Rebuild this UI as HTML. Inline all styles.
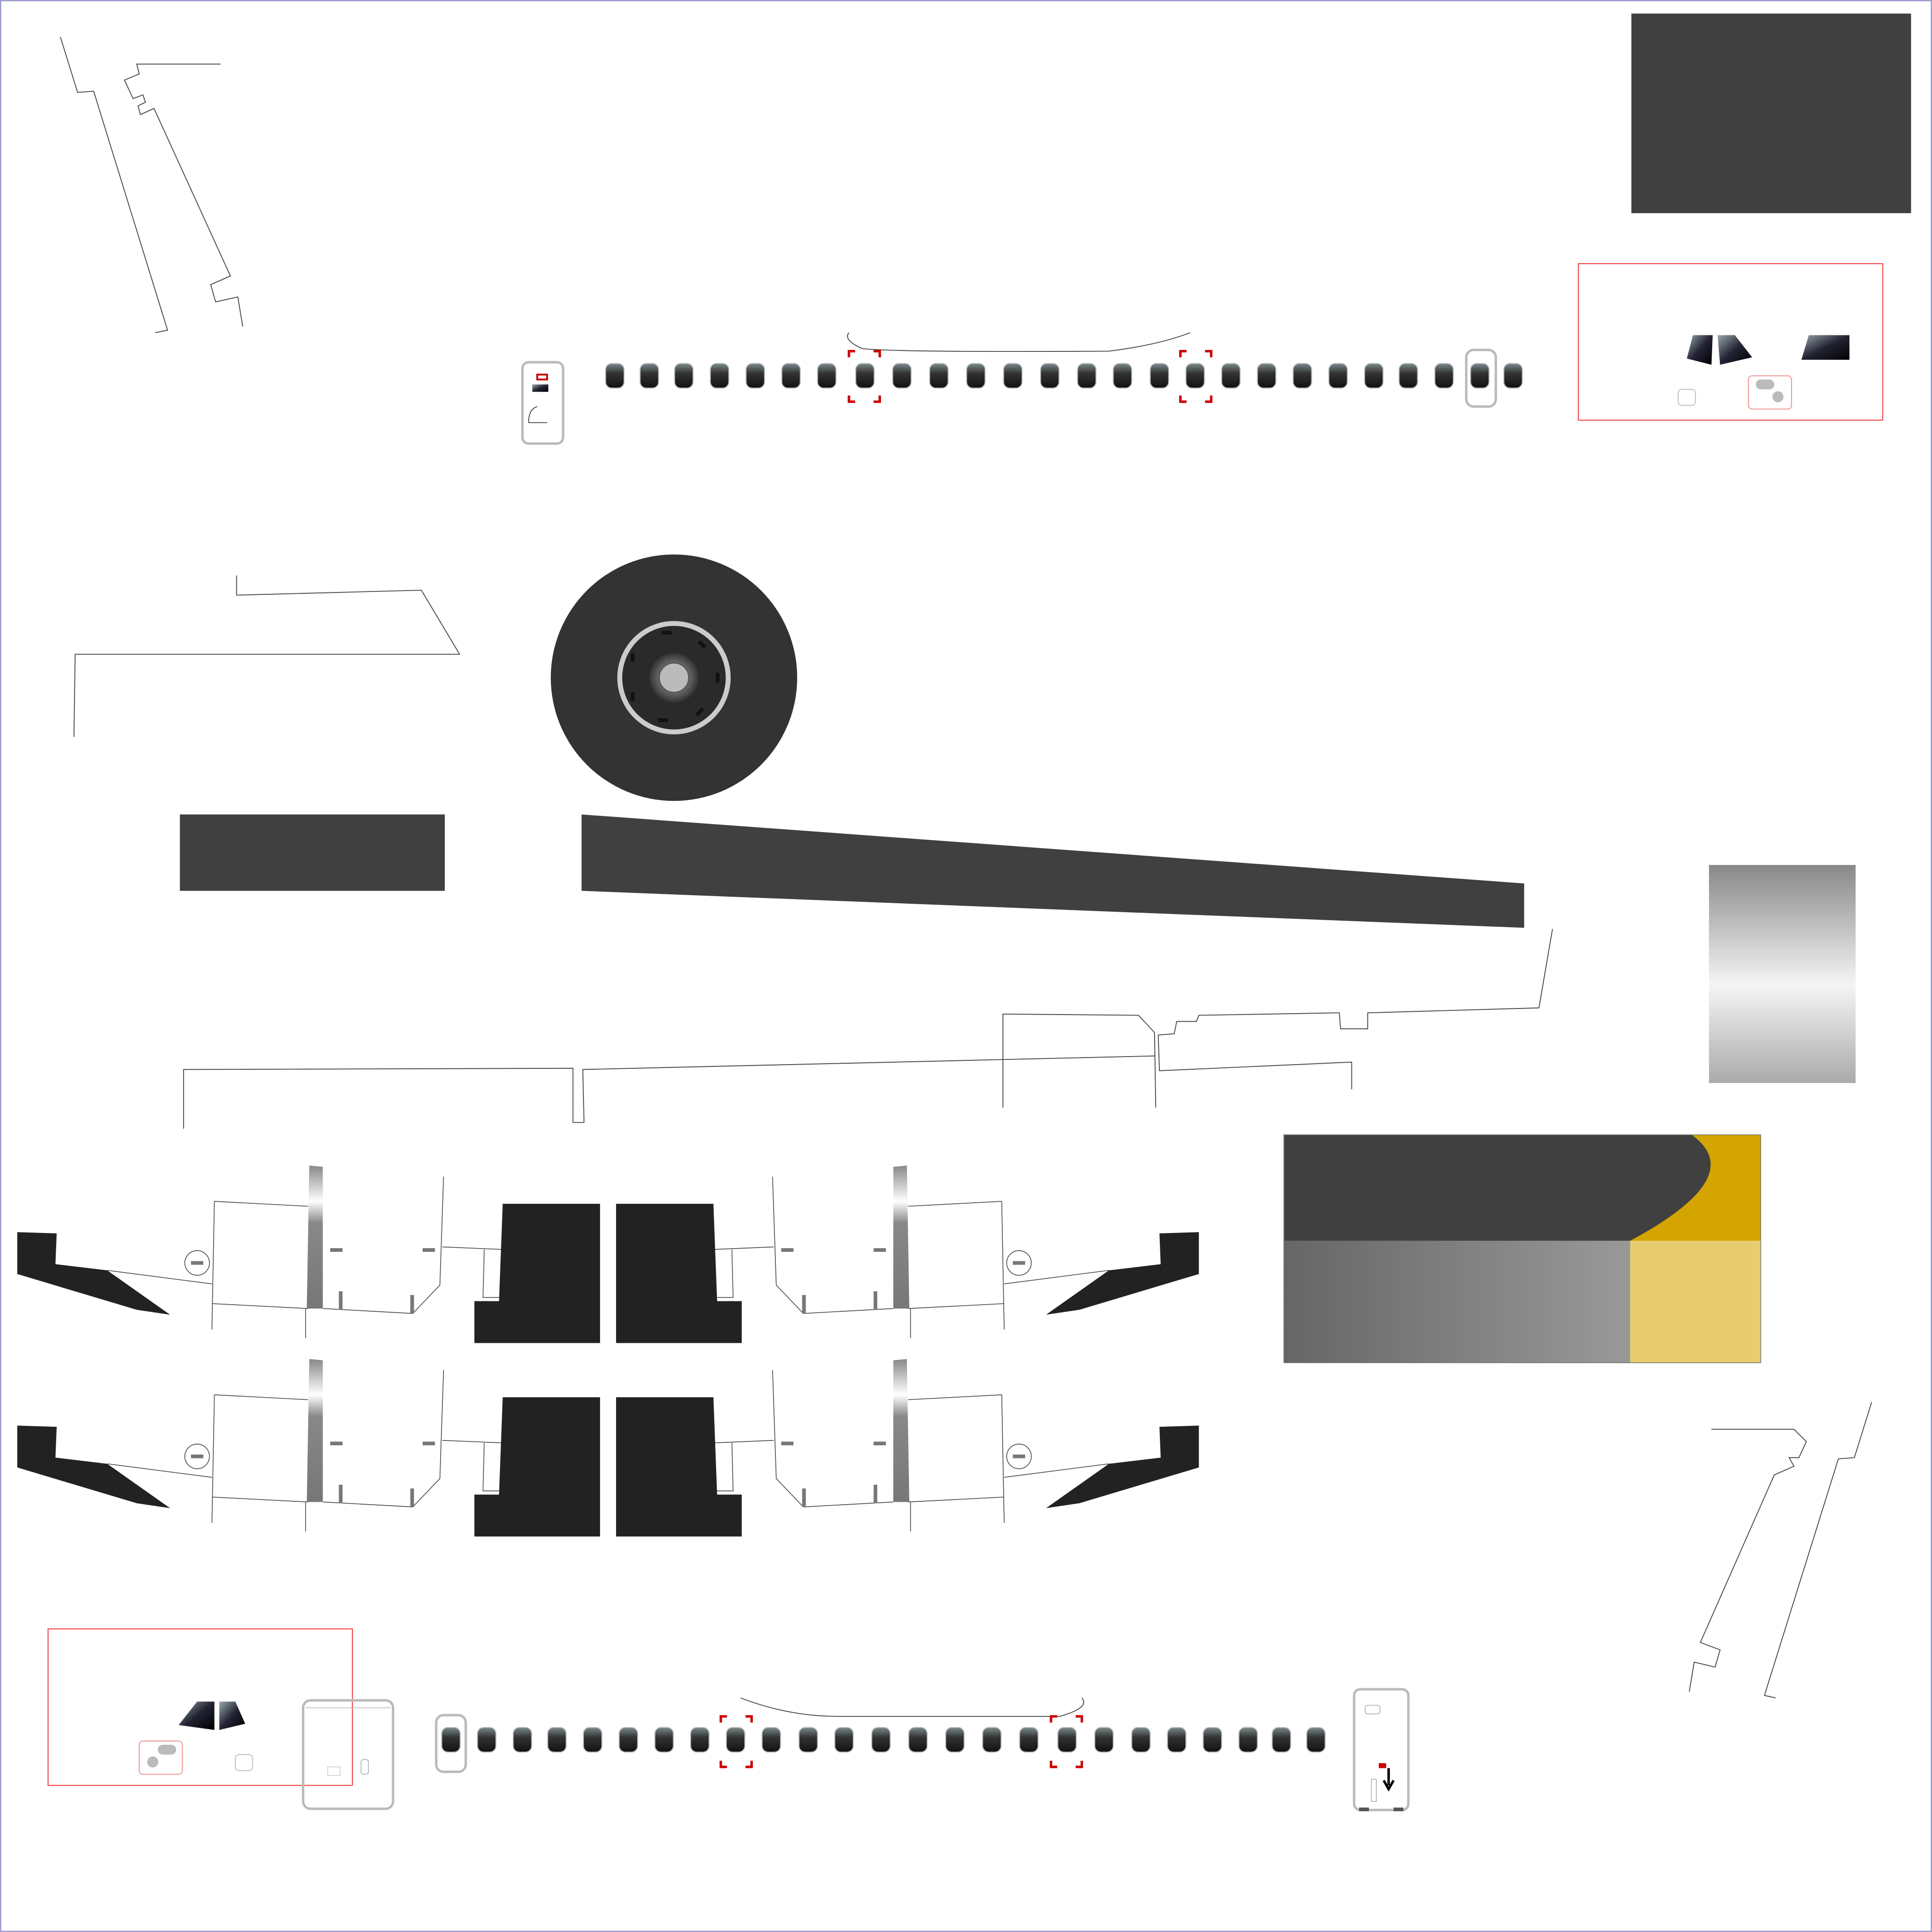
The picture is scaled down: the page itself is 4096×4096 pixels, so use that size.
<!DOCTYPE html>
<html><head><meta charset="utf-8"><style>html,body{margin:0;padding:0;background:#fff}svg{display:block}</style></head><body>
<svg xmlns="http://www.w3.org/2000/svg" width="4096" height="4096" viewBox="0 0 1568 1568">
<defs>
<linearGradient id="win" x1="0" y1="0" x2="0" y2="1"><stop offset="0" stop-color="#7a8a8c"/><stop offset="0.4" stop-color="#333"/><stop offset="1" stop-color="#111"/></linearGradient>
<linearGradient id="bar" x1="0" y1="0" x2="0" y2="1"><stop offset="0" stop-color="#888"/><stop offset="0.25" stop-color="#fff"/><stop offset="0.4" stop-color="#888"/><stop offset="1" stop-color="#777"/></linearGradient>
<linearGradient id="chrome" x1="0" y1="0" x2="0" y2="1"><stop offset="0" stop-color="#888"/><stop offset="0.55" stop-color="#f5f5f5"/><stop offset="1" stop-color="#aaa"/></linearGradient>
<linearGradient id="metal" x1="0" y1="0" x2="1" y2="0"><stop offset="0" stop-color="#666"/><stop offset="1" stop-color="#999"/></linearGradient>
<linearGradient id="glass" x1="0" y1="0" x2="1" y2="1"><stop offset="0" stop-color="#9aa"/><stop offset="0.5" stop-color="#223"/><stop offset="1" stop-color="#000"/></linearGradient>
<radialGradient id="hub"><stop offset="0" stop-color="#bbb"/><stop offset="0.5" stop-color="#777"/><stop offset="1" stop-color="#333"/></radialGradient>
<g id="w"><rect x="-7.5" y="-10" width="15" height="20" rx="5" fill="url(#win)" stroke="#bbb" stroke-width="0.8"/></g>
<g id="br" fill="none" stroke="#c00" stroke-width="2"><path d="M0 5V0H5M20 0H25V5M25 36V41H20M5 41H0V36"/></g>
<g id="asm" fill="none" stroke="#444" stroke-width="0.6">
<path d="M14 1000L46 1001L45 1026L87 1031L138 1067L111 1063L14 1034Z" fill="#222" stroke="none"/>
<path d="M408 977H487V1090H385V1056H405Z" fill="#222" stroke="none"/>
<path d="M87 1031L172 1042M174 975L250 979M174 975L172 1079M172 1058L250 1062M248 1062V1086M262 979M360 955L357 1043L335 1066L262 1062M359 1012L407 1014M393 1014L392 1053L405 1053"/>
<circle cx="160" cy="1025" r="10"/>
<rect x="155" y="1023.5" width="10" height="3" fill="#777" stroke="none"/>
<path d="M251 946L262 947L262 1062L249 1062Z" fill="url(#bar)" stroke="none"/>
<rect x="268" y="1013" width="10" height="3" fill="#777" stroke="none"/>
<rect x="343" y="1013" width="10" height="3" fill="#777" stroke="none"/>
<rect x="275" y="1048" width="3" height="15" fill="#777" stroke="none"/>
<rect x="333" y="1051" width="3" height="15" fill="#777" stroke="none"/>
</g>
</defs>
<rect x="0.5" y="0.5" width="1567" height="1567" fill="#fff" stroke="#99c" stroke-width="1"/>
<g fill="none" stroke="#444" stroke-width="0.7">
<path d="M49 30L63 75L76 74L136 268L126 270"/>
<path d="M179 52H111L113 60L101 65L108 80L116 77L118 83L112 86L114 93L125 88L187 224L171 231L175 245L193 241L197 265"/>
<path d="M192 467V483L342 479L373 531H61L60 598"/>
<path d="M1260 754L1249 818L1110 822V835H1088L1087 822L973 824L971 829L955 829L953 839L940 840L941 869L1097 862V884"/>
<path d="M814 899V823L924 824L937 838L938 899"/>
<path d="M149 916V868L465 867V911H474L473 868L937 857"/>
<path d="M1519 1138L1505 1183L1492 1184L1432 1376L1441 1378"/>
<path d="M1389 1160H1456L1466 1170L1460 1183L1452 1183L1456 1190L1440 1197L1380 1333L1396 1339L1392 1353L1375 1349L1371 1373"/>
<path d="M689 270Q684 276 700 283Q730 286 900 285Q940 280 966 270"/>
<path d="M601 1378Q640 1393 680 1393H860Q885 1386 878 1378"/>
</g>
<rect x="1324" y="11" width="227" height="162" fill="#404040"/>
<rect x="1281" y="214" width="247" height="127" fill="none" stroke="#e44" stroke-width="0.8"/>
<path d="M1374 272H1390L1389 296L1369 291Z" fill="url(#glass)"/><path d="M1394 272H1408L1422 290L1396 296Z" fill="url(#glass)"/>
<path d="M1468 272H1501V292H1462Z" fill="url(#glass)"/>
<rect x="1362" y="316" width="14" height="13" rx="3" fill="none" stroke="#bbb" stroke-width="0.7"/>
<rect x="1419" y="305" width="35" height="27" rx="3" fill="none" stroke="#e88" stroke-width="0.7"/>
<rect x="1425" y="308" width="15" height="8" rx="4" fill="#bbb"/><circle cx="1443" cy="322" r="4.5" fill="#bbb"/>
<rect x="424" y="294" width="33" height="66" rx="5" fill="none" stroke="#bbb" stroke-width="2"/>
<rect x="436" y="304" width="8" height="4" fill="none" stroke="#c00" stroke-width="1.5"/>
<rect x="432" y="312" width="13" height="6" fill="url(#glass)"/>
<path d="M429 343Q429 332 436 330M429 343H444" fill="none" stroke="#444" stroke-width="0.7"/>
<rect x="1190" y="284" width="24" height="46" rx="6" fill="none" stroke="#bbb" stroke-width="2"/>
<g>
<use href="#w" x="499" y="305"/><use href="#w" x="527" y="305"/><use href="#w" x="555" y="305"/><use href="#w" x="584" y="305"/><use href="#w" x="613" y="305"/><use href="#w" x="642" y="305"/><use href="#w" x="671" y="305"/><use href="#w" x="702" y="305"/><use href="#w" x="732" y="305"/><use href="#w" x="762" y="305"/><use href="#w" x="792" y="305"/><use href="#w" x="822" y="305"/><use href="#w" x="852" y="305"/><use href="#w" x="882" y="305"/><use href="#w" x="911" y="305"/><use href="#w" x="941" y="305"/><use href="#w" x="970" y="305"/><use href="#w" x="999" y="305"/><use href="#w" x="1028" y="305"/><use href="#w" x="1057" y="305"/><use href="#w" x="1086" y="305"/><use href="#w" x="1115" y="305"/><use href="#w" x="1143" y="305"/><use href="#w" x="1172" y="305"/><use href="#w" x="1201" y="305"/><use href="#w" x="1228" y="305"/>
</g>
<use href="#br" x="689" y="285"/><use href="#br" x="958" y="285"/>
<circle cx="547" cy="550" r="100" fill="#333"/>
<circle cx="547" cy="550" r="46" fill="#ccc"/>
<circle cx="547" cy="550" r="42" fill="#2a2a2a"/>
<circle cx="547" cy="550" r="20" fill="url(#hub)"/>
<circle cx="547" cy="550" r="12" fill="#bbb" stroke="#555" stroke-width="1"/>
<g fill="#111"><rect x="537" y="512" width="8" height="3"/><rect x="534" y="583" width="8" height="3"/><rect x="581" y="546" width="3" height="8"/><rect x="512" y="530" width="3" height="7"/><rect x="512" y="562" width="3" height="7"/><rect x="568" y="520" width="3" height="7" transform="rotate(-45 569 523)"/><rect x="567" y="574" width="3" height="7" transform="rotate(45 568 577)"/></g>
<rect x="146" y="661" width="215" height="62" fill="#404040"/>
<path d="M472 661L1237 717V753L472 723Z" fill="#404040"/>
<rect x="1387" y="702" width="119" height="177" fill="url(#chrome)"/>
<rect x="1042" y="921" width="387" height="86" fill="#404040"/>
<path d="M1373 921H1429V1007H1323Q1420 955 1373 921Z" fill="#d4a400"/>
<rect x="1042" y="1007" width="281" height="99" fill="url(#metal)"/>
<rect x="1323" y="1007" width="106" height="99" fill="#e8cc70"/>
<rect x="1042" y="921" width="387" height="185" fill="none" stroke="#777" stroke-width="0.6"/>
<use href="#asm"/>
<use href="#asm" transform="translate(987 0) scale(-1 1)"/>
<use href="#asm" transform="translate(0 157)"/>
<use href="#asm" transform="translate(987 157) scale(-1 1)"/>
<rect x="39" y="1322" width="247" height="127" fill="none" stroke="#e44" stroke-width="0.8"/>
<path d="M160 1381H174V1404L145 1400Z" fill="url(#glass)"/><path d="M178 1381H191L199 1399L178 1404Z" fill="url(#glass)"/>
<rect x="113" y="1413" width="35" height="27" rx="3" fill="none" stroke="#e88" stroke-width="0.7"/>
<rect x="128" y="1416" width="15" height="8" rx="4" fill="#bbb"/><circle cx="124" cy="1430" r="4.5" fill="#bbb"/>
<rect x="191" y="1424" width="14" height="13" rx="3" fill="none" stroke="#bbb" stroke-width="0.7"/>
<rect x="246" y="1380" width="73" height="88" rx="6" fill="none" stroke="#bbb" stroke-width="2"/>
<path d="M248 1386H317" stroke="#bbb" stroke-width="0.6"/>
<rect x="266" y="1434" width="10" height="7" fill="none" stroke="#ccc" stroke-width="0.6"/>
<rect x="293" y="1428" width="6" height="12" rx="2" fill="none" stroke="#aaa" stroke-width="0.6"/>
<rect x="354" y="1392" width="24" height="46" rx="6" fill="none" stroke="#bbb" stroke-width="2"/>
<g>
<use href="#w" x="366" y="1412"/><use href="#w" x="395" y="1412"/><use href="#w" x="424" y="1412"/><use href="#w" x="452" y="1412"/><use href="#w" x="481" y="1412"/><use href="#w" x="510" y="1412"/><use href="#w" x="539" y="1412"/><use href="#w" x="568" y="1412"/><use href="#w" x="597" y="1412"/><use href="#w" x="626" y="1412"/><use href="#w" x="656" y="1412"/><use href="#w" x="685" y="1412"/><use href="#w" x="715" y="1412"/><use href="#w" x="745" y="1412"/><use href="#w" x="775" y="1412"/><use href="#w" x="805" y="1412"/><use href="#w" x="835" y="1412"/><use href="#w" x="866" y="1412"/><use href="#w" x="896" y="1412"/><use href="#w" x="926" y="1412"/><use href="#w" x="955" y="1412"/><use href="#w" x="984" y="1412"/><use href="#w" x="1013" y="1412"/><use href="#w" x="1040" y="1412"/><use href="#w" x="1068" y="1412"/>
</g>
<use href="#br" x="585" y="1393"/><use href="#br" x="853" y="1393"/>
<rect x="1099" y="1371" width="44" height="98" rx="5" fill="none" stroke="#bbb" stroke-width="2"/>
<rect x="1108" y="1384" width="12" height="7" rx="2" fill="none" stroke="#aaa" stroke-width="0.6"/>
<rect x="1119" y="1431" width="6" height="4" fill="#c00"/>
<path d="M1127 1435V1449M1123 1445L1127 1452L1131 1445" fill="none" stroke="#000" stroke-width="2"/>
<rect x="1113" y="1444" width="4" height="18" fill="none" stroke="#aaa" stroke-width="0.6"/>
<rect x="1103" y="1467" width="8" height="3" fill="#555"/><rect x="1131" y="1467" width="8" height="3" fill="#555"/>
</svg>
</body></html>
